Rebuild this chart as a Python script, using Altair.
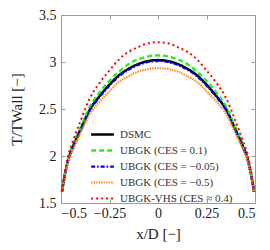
import altair as alt
import pandas as pd

x_pos = [-0.495, -0.48, -0.46, -0.44, -0.4, -0.35, -0.3, -0.25, -0.2, -0.15, -0.1, -0.05, 0.0,
         0.05, 0.1, 0.15, 0.2, 0.25, 0.3, 0.35, 0.4, 0.44, 0.46, 0.48, 0.495]

dsmc = [1.62, 1.80, 1.98, 2.09, 2.28, 2.50, 2.64, 2.76, 2.86, 2.93, 2.98, 3.01, 3.02,
        3.01, 2.98, 2.93, 2.86, 2.76, 2.64, 2.50, 2.28, 2.09, 1.98, 1.80, 1.62]
ubgk_01 = [1.62, 1.81, 1.99, 2.11, 2.30, 2.53, 2.68, 2.80, 2.90, 2.98, 3.03, 3.06, 3.07,
           3.06, 3.03, 2.98, 2.90, 2.80, 2.68, 2.53, 2.30, 2.11, 1.99, 1.81, 1.62]
ubgk_m005 = [1.62, 1.80, 1.98, 2.09, 2.27, 2.49, 2.63, 2.75, 2.85, 2.92, 2.97, 3.00, 3.01,
             3.00, 2.97, 2.92, 2.85, 2.75, 2.63, 2.49, 2.27, 2.09, 1.98, 1.80, 1.62]
ubgk_m05 = [1.62, 1.79, 1.96, 2.06, 2.24, 2.45, 2.58, 2.69, 2.79, 2.85, 2.90, 2.925, 2.935,
            2.925, 2.90, 2.85, 2.79, 2.69, 2.58, 2.45, 2.24, 2.06, 1.96, 1.79, 1.62]
ubgk_vhs = [1.62, 1.83, 2.03, 2.15, 2.37, 2.62, 2.78, 2.91, 3.03, 3.11, 3.16, 3.20, 3.21,
            3.20, 3.16, 3.11, 3.03, 2.91, 2.78, 2.62, 2.37, 2.15, 2.03, 1.83, 1.62]

series_names = ["DSMC", "UBGK (CES = 0.1)", "UBGK (CES = −0.05)",
                "UBGK (CES = −0.5)", "UBGK-VHS (CES ≈ 0.4)"]
series_values = [dsmc, ubgk_01, ubgk_m005, ubgk_m05, ubgk_vhs]

colors = ["#000000", "#22ee22", "#0000ff", "#ff8c1a", "#ff0000"]
dashes = [[1, 0], [5, 3], [4, 2, 1.5, 2], [1.5, 1], [2, 3]]
widths = [2.5, 2, 2, 2, 2]

x_ticks = [-0.5, -0.25, 0, 0.25, 0.5]
y_ticks = [1.5, 2, 2.5, 3, 3.5]

rows = []
for name, vals in zip(series_names, series_values):
    for xv, tv in zip(x_pos, vals):
        rows.append({"series": name, "x": xv, "T": tv})
df = pd.DataFrame(rows)

FONT = "Liberation Serif"
GREY = "#9a9a9a"

leg = alt.Legend(orient="none", legendX=31, legendY=109, title=None,
                 symbolType="M-1.25,0H1.25", symbolSize=330, labelFont=FONT,
                 labelFontSize=11, labelOffset=7, rowPadding=0,
                 padding=0, labelColor="#333333", symbolFillColor="transparent")

xscale = alt.Scale(domain=[-0.5, 0.5], nice=False, zero=False)
yscale = alt.Scale(domain=[1.5, 3.5], nice=False, zero=False)

lines = alt.Chart(df).mark_line(interpolate="monotone").encode(
    x=alt.X("x:Q", scale=xscale,
            axis=alt.Axis(orient="bottom", values=x_ticks, format=".2~f",
                          offset=-4, tickSize=4, domain=False, grid=False,
                          labelPadding=3, title="x/D [−]", titlePadding=6)),
    y=alt.Y("T:Q", scale=yscale,
            axis=alt.Axis(orient="left", values=y_ticks, format=".1~f",
                          offset=-4, tickSize=4, domain=False, grid=False,
                          labelPadding=5, title="T/TWall [−]", titlePadding=14)),
    color=alt.Color("series:N", scale=alt.Scale(domain=series_names, range=colors),
                    legend=leg),
    strokeDash=alt.StrokeDash("series:N",
                              scale=alt.Scale(domain=series_names, range=dashes),
                              legend=leg),
    strokeWidth=alt.StrokeWidth("series:N",
                                scale=alt.Scale(domain=series_names, range=widths),
                                legend=leg),
)

frame = alt.Chart(df).mark_point(opacity=0).encode(
    x=alt.X("x:Q", scale=xscale,
            axis=alt.Axis(orient="top", values=x_ticks, labels=False, offset=-4,
                          tickSize=4, domain=False, grid=False, title=None)),
    y=alt.Y("T:Q", scale=yscale,
            axis=alt.Axis(orient="right", values=y_ticks, labels=False, offset=-4,
                          tickSize=4, domain=False, grid=False, title=None)),
)

chart = alt.layer(lines, frame).resolve_axis(x="independent", y="independent").properties(
    width=194, height=188,
    autosize=alt.AutoSizeParams(type="none"),
    padding={"left": 53, "top": 7, "right": 7, "bottom": 39},
).configure_view(stroke=GREY, strokeWidth=1).configure_axis(
    tickColor=GREY, labelFont=FONT, titleFont=FONT, labelFontSize=14,
    titleFontSize=15, titleFontWeight="normal", labelColor="#222222",
    titleColor="#222222",
)

chart.save("out.html", embed_options={"renderer": "svg", "actions": False})
